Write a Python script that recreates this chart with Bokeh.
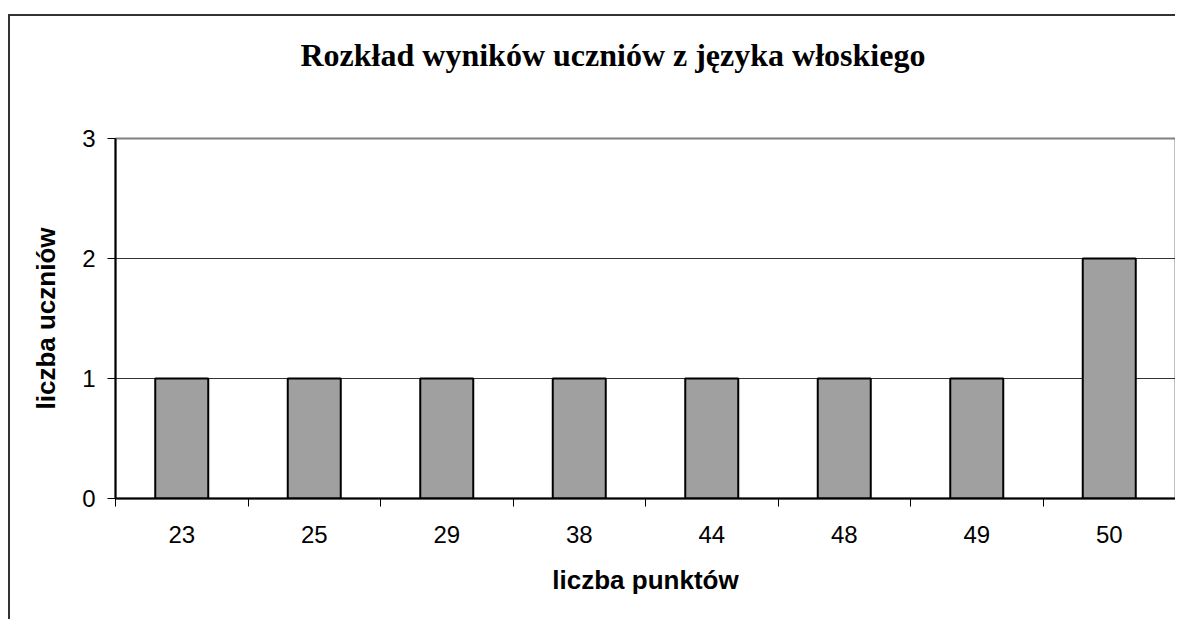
from bokeh.plotting import figure
from bokeh.models import Range1d, FixedTicker, ColumnDataSource
from bokeh.embed import file_html
from bokeh.resources import INLINE

# data
categories = ["23", "25", "29", "38", "44", "48", "49", "50"]
counts = [1, 1, 1, 1, 1, 1, 1, 2]
y_ticks = [0, 1, 2, 3]

title_text = "Rozkład wyników uczniów z języka włoskiego"
x_title = "liczba punktów"
y_title = "liczba uczniów"

n = len(categories)
centers = [i + 0.5 for i in range(n)]
source = ColumnDataSource(dict(x=centers, top=counts, cat=categories))

p = figure(
    frame_width=1060, frame_height=360,
    x_range=Range1d(0, n), y_range=Range1d(0, max(y_ticks)),
    output_backend="svg", toolbar_location=None,
    min_border_left=105, min_border_right=0, min_border_top=122, min_border_bottom=121,
)
p.margin = (14, 0, 0, 8)
p.styles = {"border-top": "2px solid #333333", "border-left": "2px solid #333333"}

# title: a trailing empty line lifts it away from the frame
p.title.text = title_text + "\n "
p.title.text_font = "Liberation Serif"
p.title.text_font_size = "32px"
p.title.text_font_style = "bold"
p.title.text_color = "black"
p.title.text_line_height = 1.55
p.title.align = "left"
p.title.offset = 185
p.title.standoff = 20

p.vbar(x="x", top="top", width=0.4, bottom=0, source=source,
       fill_color="#A0A0A0", line_color="black", line_width=2)

p.outline_line_color = "#808080"
p.outline_line_width = 2
p.background_fill_color = "white"
p.border_fill_color = "white"

# grid
p.xgrid.visible = False
p.ygrid.ticker = FixedTicker(ticks=[t for t in y_ticks if 0 < t < max(y_ticks)])
p.ygrid.grid_line_color = "#333333"
p.ygrid.grid_line_width = 1

# x axis
xa = p.xaxis[0]
xa.ticker = FixedTicker(ticks=centers, minor_ticks=list(range(n + 1)))
xa.major_label_overrides = {c: lab for c, lab in zip(centers, categories)}
xa.major_tick_out = 0
xa.major_tick_in = 0
xa.minor_tick_out = 8
xa.minor_tick_in = 0
xa.minor_tick_line_color = "black"
xa.axis_line_color = "black"
xa.axis_line_width = 2
xa.major_label_text_font = "Liberation Sans"
xa.major_label_text_font_size = "24px"
xa.major_label_text_color = "black"
xa.major_label_standoff = 19
xa.axis_label = x_title
xa.axis_label_text_font = "Liberation Sans"
xa.axis_label_text_font_size = "26px"
xa.axis_label_text_font_style = "bold"
xa.axis_label_text_color = "black"
xa.axis_label_standoff = 19

# y axis
ya = p.yaxis[0]
ya.ticker = FixedTicker(ticks=y_ticks, minor_ticks=[])
ya.major_tick_out = 8
ya.major_tick_in = 0
ya.major_tick_line_color = "black"
ya.axis_line_color = "black"
ya.axis_line_width = 2
ya.major_label_text_font = "Liberation Sans"
ya.major_label_text_font_size = "24px"
ya.major_label_text_color = "black"
ya.major_label_standoff = 12
ya.axis_label = y_title
ya.axis_label_text_font = "Liberation Sans"
ya.axis_label_text_font_size = "26px"
ya.axis_label_text_font_style = "bold"
ya.axis_label_text_color = "black"
ya.axis_label_standoff = 18

open("out.html", "w").write(file_html(p, INLINE))
